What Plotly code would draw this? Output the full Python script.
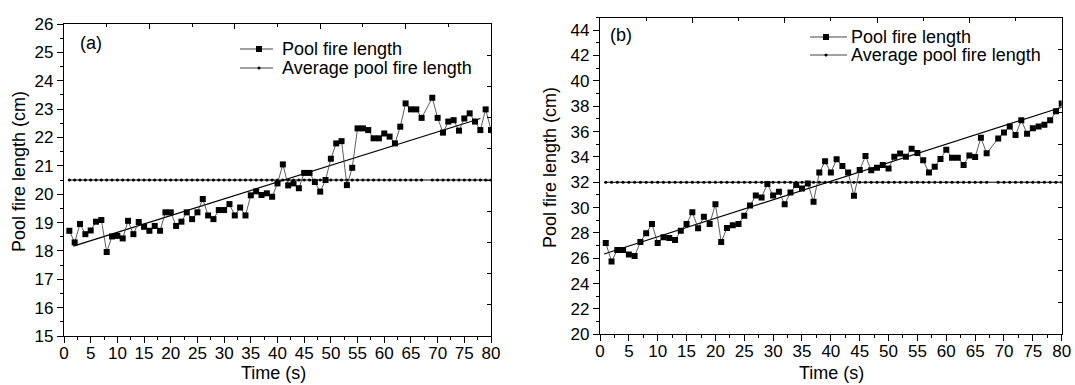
import plotly.graph_objects as go

W, H = 1075, 385

# ---------------- data ----------------
time_s = list(range(1, 81))  # t = 68 has no sample (None below)

length_a = [18.71, 18.30, 18.95, 18.59, 18.72, 19.03, 19.09, 17.96, 18.51, 18.53,
            18.44, 19.06, 18.59, 19.02, 18.85, 18.71, 18.88, 18.71, 19.36, 19.36,
            18.88, 19.03, 19.36, 19.12, 19.36, 19.83, 19.25, 19.12, 19.44, 19.44,
            19.65, 19.25, 19.53, 19.25, 19.96, 20.10, 19.97, 20.03, 19.91, 20.38,
            21.05, 20.31, 20.38, 20.21, 20.75, 20.75, 20.43, 20.09, 20.50, 21.25,
            21.79, 21.87, 20.32, 20.93, 22.32, 22.32, 22.26, 21.97, 21.97, 22.14,
            22.03, 21.79, 22.38, 23.20, 22.99, 22.99, 22.69, None, 23.40, 22.69,
            22.17, 22.56, 22.61, 22.24, 22.67, 22.85, 22.56, 22.26, 22.99, 22.26]

length_b = [27.21, 25.74, 26.66, 26.66, 26.29, 26.18, 27.29, 27.97, 28.70, 27.21,
            27.65, 27.60, 27.44, 28.18, 28.70, 29.64, 28.36, 29.28, 28.70, 30.27,
            27.29, 28.39, 28.60, 28.70, 29.36, 30.17, 30.95, 30.80, 31.87, 30.95,
            31.24, 30.27, 31.19, 31.79, 31.50, 31.90, 30.46, 32.76, 33.65, 32.76,
            33.81, 33.29, 32.76, 30.93, 32.97, 34.07, 32.94, 33.15, 33.36, 33.08,
            34.02, 34.26, 34.02, 34.65, 34.31, 33.73, 32.76, 33.23, 33.84, 34.57,
            33.94, 33.94, 33.36, 34.10, 33.99, 35.51, 34.28, None, 35.46, 35.93,
            36.40, 35.72, 36.90, 35.83, 36.27, 36.40, 36.54, 36.90, 37.61, 38.21]

avg_a_value = 20.5
avg_b_value = 32.0

fit_a_t = [1.75, 78.0]
fit_a_y = [18.17, 22.67]
fit_b_t = [0.7, 80.0]
fit_b_y = [26.34, 37.92]

x_ticks = [0, 5, 10, 15, 20, 25, 30, 35, 40, 45, 50, 55, 60, 65, 70, 75, 80]
y_ticks_a = [15, 16, 17, 18, 19, 20, 21, 22, 23, 24, 25, 26]
y_ticks_b = [20, 22, 24, 26, 28, 30, 32, 34, 36, 38, 40, 42, 44]

series_names = ["Pool fire length", "Average pool fire length"]
y_title = "Pool fire length (cm)"
x_title = "Time (s)"

avg_a = [avg_a_value if v is not None else None for v in length_a]
avg_b = [avg_b_value if v is not None else None for v in length_b]

FONT = "Arial, 'Liberation Sans', sans-serif"

# ---------------- figure ----------------
fig = go.Figure()

def add_panel(xa, ya, vals, avg, ft, fy):
    fig.add_trace(go.Scatter(x=time_s, y=avg, mode="lines+markers", connectgaps=True,
                             line=dict(color="black", width=1),
                             marker=dict(symbol="circle", size=3.2, color="black"),
                             xaxis=xa, yaxis=ya, showlegend=False, name=series_names[1]))
    fig.add_trace(go.Scatter(x=ft, y=fy, mode="lines",
                             line=dict(color="black", width=1.2),
                             xaxis=xa, yaxis=ya, showlegend=False, name="fit"))
    fig.add_trace(go.Scatter(x=time_s, y=vals, mode="lines+markers", connectgaps=True,
                             line=dict(color="#333333", width=0.8),
                             marker=dict(symbol="square", size=6, color="black"),
                             xaxis=xa, yaxis=ya, showlegend=False, name=series_names[0]))

add_panel("x", "y", length_a, avg_a, fit_a_t, fit_a_y)
add_panel("x2", "y2", length_b, avg_b, fit_b_t, fit_b_y)

# invisible anchors for the mirror (top/right) axes
for xa, ya, vals in (("x3", "y3", length_a), ("x4", "y4", length_b)):
    fig.add_trace(go.Scatter(x=time_s[:1], y=vals[:1], mode="markers",
                             marker=dict(opacity=0), xaxis=xa, yaxis=ya,
                             showlegend=False, hoverinfo="skip"))

# panel geometry (pixels)
a_left, a_right, a_top, a_bottom = 64, 491, 24, 336
b_left, b_right, b_top, b_bottom = 600, 1061.7, 17.5, 334.3

def dom_x(l, r):
    return [l / W, r / W]

def dom_y(t, b):
    return [(H - b) / H, (H - t) / H]

common_axis = dict(showline=True, linecolor="black", linewidth=1.2, showgrid=False,
                   zeroline=False, tickcolor="black", tickwidth=1, automargin=False,
                   tickfont=dict(family=FONT, size=17, color="black"))

xlab = dict(ticklabelstandoff=-5)

fig.update_layout(
    template="none",
    width=W, height=H, margin=dict(l=0, r=0, t=0, b=0, pad=0, autoexpand=False),
    paper_bgcolor="white", plot_bgcolor="white", showlegend=False,
    font=dict(family=FONT, color="black"),
    xaxis=dict(domain=dom_x(a_left, a_right), range=[0, 80], anchor="y",
               tickmode="array", tickvals=x_ticks, ticks="outside", ticklen=6,
               minor=dict(dtick=2.5, tick0=0, ticks="outside", ticklen=3, tickcolor="black"),
               **xlab, **common_axis),
    yaxis=dict(domain=dom_y(a_top, a_bottom), range=[15, 26], anchor="x",
               tickmode="array", tickvals=y_ticks_a, ticks="outside", ticklen=6,
               minor=dict(dtick=0.5, tick0=15, ticks="outside", ticklen=3, tickcolor="black"),
               **common_axis),
    xaxis3=dict(overlaying="x", side="top", anchor="y3", range=[0, 80],
                tickmode="linear", tick0=0, dtick=16, ticks="inside", ticklen=5,
                showticklabels=False,
                minor=dict(dtick=8, tick0=0, ticks="inside", ticklen=3, tickcolor="black"),
                **common_axis),
    yaxis3=dict(overlaying="y", side="right", anchor="x3", range=[15, 26],
                tickmode="linear", tick0=15, dtick=1.1, ticks="inside", ticklen=4,
                showticklabels=False, **common_axis),
    xaxis2=dict(domain=dom_x(b_left, b_right), range=[0, 80], anchor="y2",
                tickmode="array", tickvals=x_ticks, ticks="outside", ticklen=6,
                minor=dict(dtick=2.5, tick0=0, ticks="outside", ticklen=3, tickcolor="black"),
                **xlab, **common_axis),
    yaxis2=dict(domain=dom_y(b_top, b_bottom), range=[20, 45], anchor="x2",
                tickmode="array", tickvals=y_ticks_b, ticks="outside", ticklen=6,
                minor=dict(dtick=1, tick0=20, ticks="outside", ticklen=3, tickcolor="black"),
                **common_axis),
    xaxis4=dict(overlaying="x2", side="top", anchor="y4", range=[0, 80],
                tickmode="linear", tick0=0, dtick=16, ticks="inside", ticklen=5,
                showticklabels=False,
                minor=dict(dtick=8, tick0=0, ticks="inside", ticklen=3, tickcolor="black"),
                **common_axis),
    yaxis4=dict(overlaying="y2", side="right", anchor="x4", range=[20, 45],
                tickmode="linear", tick0=20, dtick=2.5, ticks="inside", ticklen=4,
                showticklabels=False, **common_axis),
)

def px(x):
    return x / W

def py(y):
    return 1 - y / H

annotations = []
shapes = []

def text(x, y, s, size=18, xanchor="left", angle=0):
    annotations.append(dict(x=px(x), y=py(y), xref="paper", yref="paper", text=s,
                            showarrow=False, xanchor=xanchor, yanchor="middle",
                            textangle=angle,
                            font=dict(family=FONT, size=size, color="black")))

# axis titles
text(19, 172, y_title, size=18, xanchor="center", angle=-90)
text(550, 168, y_title, size=18, xanchor="center", angle=-90)
text(273, 373, x_title, size=18, xanchor="center")
text(831, 373, x_title, size=18, xanchor="center")

# panel labels
text(78, 43, "(a)", size=18)
text(608, 35, "(b)", size=18)

# legends (drawn manually)
def legend(x0, x1, xm, xt, y1, y2):
    shapes.append(dict(type="line", xref="paper", yref="paper", x0=px(x0), x1=px(x1),
                       y0=py(y1), y1=py(y1), line=dict(color="#444444", width=1)))
    shapes.append(dict(type="rect", xref="paper", yref="paper", x0=px(xm - 3), x1=px(xm + 3),
                       y0=py(y1 - 3), y1=py(y1 + 3), line=dict(width=0), fillcolor="black"))
    shapes.append(dict(type="line", xref="paper", yref="paper", x0=px(x0), x1=px(x1),
                       y0=py(y2), y1=py(y2), line=dict(color="#444444", width=1)))
    shapes.append(dict(type="circle", xref="paper", yref="paper", x0=px(xm - 1.5), x1=px(xm + 1.5),
                       y0=py(y2 - 1.5), y1=py(y2 + 1.5), line=dict(width=0), fillcolor="black"))
    text(xt, y1, series_names[0], size=18)
    text(xt, y2, series_names[1], size=18)

legend(240, 273, 259, 280, 49, 68)
legend(810, 847, 826, 849, 37, 55)

fig.update_layout(annotations=annotations, shapes=shapes)

fig.write_html("out.html")
